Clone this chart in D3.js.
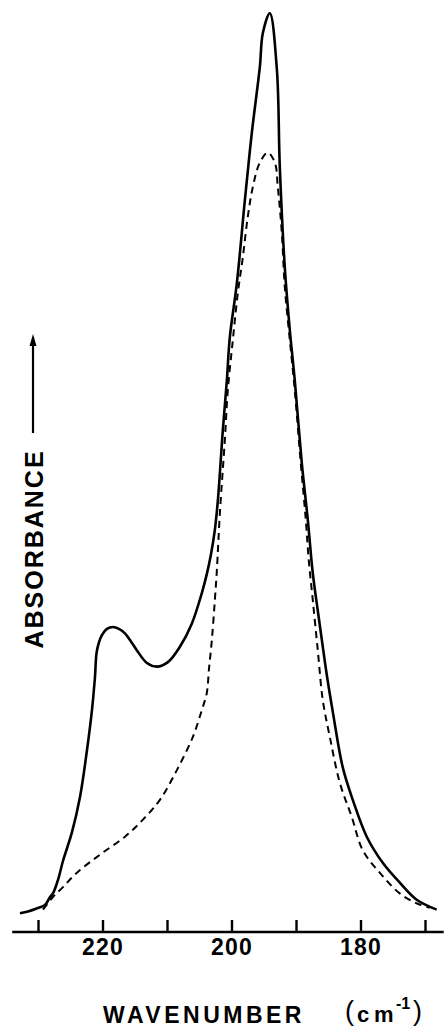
<!DOCTYPE html>
<html>
<head>
<meta charset="utf-8">
<script src="https://cdn.jsdelivr.net/npm/d3@7"></script>
<style>
  html, body { margin: 0; padding: 0; background: #fff; }
  svg { display: block; }
  text { font-family: "Liberation Sans", Arial, Helvetica, sans-serif; fill: #000; }
</style>
</head>
<body>
<svg id="chart" width="445" height="1028"></svg>
<script>
// Wavenumber (cm^-1) and absorbance (arbitrary units, peak ~100)
const solidWn = [232.79, 231.55, 230.31, 228.92, 228.14, 227.68, 226.90, 226.13, 224.73, 223.49,
  222.41, 221.63, 221.17, 220.86, 220.09, 219.31, 218.38, 217.45, 216.52, 215.59,
  214.66, 213.11, 211.56, 209.86, 208.00, 206.14, 204.59, 203.82, 203.20, 202.58,
  202.11, 201.34, 200.72, 200.26, 199.17, 197.93, 196.85, 195.61, 195.14,
  194.06, 192.97, 192.51, 191.74, 190.96, 190.19, 189.10, 188.17,
  187.40, 186.62, 186.00, 185.23, 184.30, 182.75, 181.20, 179.03, 176.55, 173.92,
  171.29, 168.19];
const solidAbs = [0.2, 0.4, 0.7, 1.1, 2.0, 2.4, 3.9, 6.0, 9.2, 13.1,
  18.3, 22.8, 26.4, 29.4, 31.1, 31.8, 32.0, 31.8, 31.3, 30.4,
  29.4, 28.0, 27.6, 28.1, 29.8, 32.4, 35.8, 37.9, 40.0, 42.8,
  46.1, 53.9, 59.4, 64.2, 70.2, 79.4, 86.9, 94.2, 98.0,
  100.2, 94.0, 83.1, 72.0, 65.0, 59.4, 50.2, 43.9,
  38.0, 33.8, 30.6, 26.7, 22.6, 16.4, 12.8, 8.7, 5.8, 3.6,
  1.7, 0.6];

const dashWn = [229.23, 227.68, 226.13, 223.96, 220.40, 216.52, 213.73, 211.10, 208.47, 205.99,
  204.59, 203.82, 203.51, 203.04, 202.58, 202.27, 201.80, 201.03, 200.57, 199.79,
  199.02, 198.24, 197.47, 196.69, 195.61, 194.37, 193.28, 192.82, 192.20, 191.74,
  190.96, 190.19, 189.26, 188.48, 188.02, 187.40, 186.62, 185.85, 184.76, 183.21,
  181.36, 179.65, 177.02, 173.92, 171.29, 169.27];
const dashAbs = [0.6, 2.0, 3.1, 4.7, 6.7, 8.7, 10.6, 12.8, 16.1, 19.8,
  22.8, 24.7, 27.2, 30.6, 35.0, 38.3, 44.7, 52.8, 58.3, 63.9,
  69.1, 73.1, 77.6, 80.9, 83.6, 84.7, 83.6, 80.9, 75.8, 69.8,
  63.9, 58.3, 50.2, 43.9, 39.4, 35.0, 29.4, 23.9, 19.8, 14.7,
  10.9, 7.2, 4.7, 2.4, 1.3, 0.8];

const tickValues = [230, 220, 210, 200, 190, 180, 170];
const tickLabels = ["", "220", "", "200", "", "180", ""];
const axisExtent = [234, 167.1];
const xTitle = "WAVENUMBER";
const yTitle = "ABSORBANCE";

const svg = d3.select("#chart");

const x = d3.scaleLinear().domain([230, 170]).range([38, 425]);
const y = d3.scaleLinear().domain([0, 100]).range([915, 15]);
const axisY = 932;

// axis
const axisG = svg.append("g").attr("transform", `translate(0,${axisY})`);
axisG.call(
  d3.axisBottom(x)
    .tickValues(tickValues)
    .tickSize(-12)
    .tickPadding(7)
    .tickFormat((d, i) => tickLabels[i])
);
axisG.select(".domain").remove();
axisG.selectAll(".tick line").attr("stroke", "#000").attr("stroke-width", 2.4);
axisG.selectAll(".tick text")
  .attr("font-size", 23)
  .attr("font-weight", "bold")
  .attr("letter-spacing", 1.2)
  .attr("fill", "#000")
  .style("font-family", '"Liberation Sans", Arial, sans-serif');
axisG.append("line")
  .attr("x1", x(axisExtent[0])).attr("x2", x(axisExtent[1]))
  .attr("y1", 0).attr("y2", 0)
  .attr("stroke", "#000").attr("stroke-width", 2.6);

// curves
const line = d3.line()
  .x(d => x(d[0]))
  .y(d => y(d[1]))
  .curve(d3.curveCatmullRom.alpha(0.5));

const solid = solidWn.map((w, i) => [w, solidAbs[i]]);
const dashed = dashWn.map((w, i) => [w, dashAbs[i]]);

svg.append("path")
  .datum(dashed)
  .attr("d", line)
  .attr("fill", "none")
  .attr("stroke", "#000")
  .attr("stroke-width", 2)
  .attr("stroke-dasharray", "7,5");

svg.append("path")
  .datum(solid)
  .attr("d", line)
  .attr("fill", "none")
  .attr("stroke", "#000")
  .attr("stroke-width", 2.6)
  .attr("stroke-linejoin", "miter");

// x title
svg.append("text")
  .attr("x", 103).attr("y", 1023)
  .attr("font-size", 23)
  .attr("font-weight", "bold")
  .attr("letter-spacing", 3.5)
  .text(xTitle);

// unit (cm^-1)
const unit = svg.append("g");
unit.append("text").attr("x", 345).attr("y", 1020).attr("font-size", 27).text("(");
unit.append("text").attr("x", 357).attr("y", 1022).attr("font-size", 22).attr("font-weight", "bold").text("c");
unit.append("text").attr("x", 374).attr("y", 1022).attr("font-size", 22).attr("font-weight", "bold").text("m");
unit.append("text").attr("x", 396).attr("y", 1009).attr("font-size", 16).attr("font-weight", "bold").text("-1");
unit.append("text").attr("x", 413).attr("y", 1020).attr("font-size", 27).text(")");

// y title
svg.append("text")
  .attr("transform", "translate(43,549) rotate(-90)")
  .attr("text-anchor", "middle")
  .attr("font-size", 25)
  .attr("font-weight", "bold")
  .attr("letter-spacing", 2)
  .text(yTitle);

// arrow
svg.append("line")
  .attr("x1", 33).attr("x2", 33)
  .attr("y1", 433).attr("y2", 342)
  .attr("stroke", "#000").attr("stroke-width", 2.2);
svg.append("path")
  .attr("d", "M33,334 L29.5,346 L36.5,346 Z")
  .attr("fill", "#000");
</script>
</body>
</html>
